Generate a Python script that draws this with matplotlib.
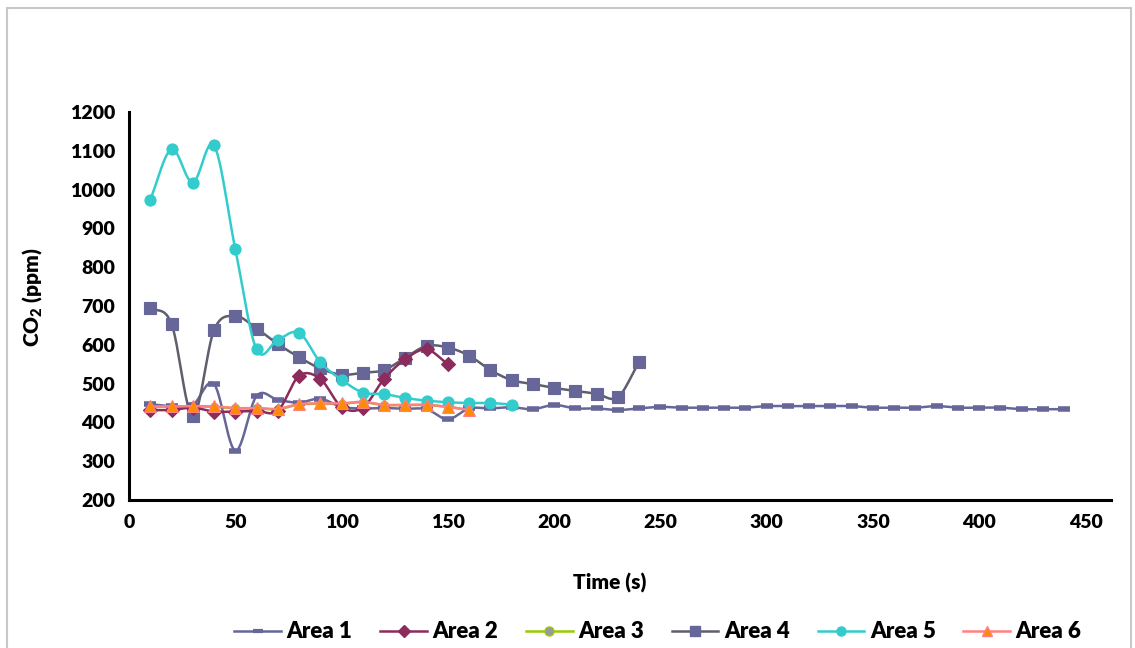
import numpy as np
import matplotlib.pyplot as plt
from matplotlib.patches import Rectangle

# datos (tiempo en s, CO2 en ppm)
t_area1 = list(range(10, 450, 10))
co2_area1 = [447, 442, 445, 499, 327, 468, 458, 451, 461, 440,
             436, 437, 435, 434, 408, 436, 436, 439, 434, 445,
             436, 436, 432, 436, 440, 438, 438, 438, 438, 442,
             442, 442, 442, 442, 438, 438, 438, 442, 438, 438,
             438, 434, 434, 434]

t_area2 = list(range(10, 160, 10))
co2_area2 = [432, 432, 438, 428, 428, 430, 430, 520, 512, 440, 438, 512, 563, 588, 550]

t_area3 = list(range(10, 170, 10))
co2_area3 = [440, 440, 441, 440, 436, 436, 434, 446, 448, 448, 452, 445, 445, 445, 440, 432]

t_area4 = list(range(10, 250, 10))
co2_area4 = [696, 654, 416, 638, 674, 642, 602, 568, 539, 523, 528, 535,
             567, 597, 593, 572, 535, 509, 499, 489, 481, 474, 465, 556]

t_area5 = list(range(10, 190, 10))
co2_area5 = [974, 1104, 1018, 1114, 847, 588, 613, 631, 555, 510, 477, 473,
             463, 456, 452, 450, 450, 446]

t_area6 = list(range(10, 170, 10))
co2_area6 = [441, 441, 442, 441, 437, 437, 435, 447, 449, 449, 453, 445, 445, 445, 440, 432]

xticks = list(range(0, 451, 50))
yticks = list(range(200, 1201, 100))


def suavizar(x, y, n=12):
    # curva suavizada tipo Excel (Catmull-Rom) solo para dibujar la linea
    x = np.asarray(x, float)
    y = np.asarray(y, float)
    px = np.concatenate([[2 * x[0] - x[1]], x, [2 * x[-1] - x[-2]]])
    py = np.concatenate([[2 * y[0] - y[1]], y, [2 * y[-1] - y[-2]]])
    xs, ys = [], []
    s = np.linspace(0, 1, n, endpoint=False)
    for i in range(1, len(px) - 2):
        for arr, out in ((px, xs), (py, ys)):
            p0, p1, p2, p3 = arr[i - 1], arr[i], arr[i + 1], arr[i + 2]
            out.extend(0.5 * ((2 * p1) + (-p0 + p2) * s
                              + (2 * p0 - 5 * p1 + 4 * p2 - p3) * s ** 2
                              + (-p0 + 3 * p1 - 3 * p2 + p3) * s ** 3))
    xs.append(x[-1])
    ys.append(y[-1])
    return xs, ys


plt.rcParams['font.family'] = ['Lato', 'DejaVu Sans']
plt.rcParams['font.weight'] = 'heavy'
peso = 'heavy'

fig = plt.figure(figsize=(11.35, 6.48), dpi=100)
fig.patches.append(Rectangle((7 / 1135, -0.1), 1124 / 1135, 1 - 8 / 648 + 0.1,
                             transform=fig.transFigure, fill=False,
                             edgecolor='#c8c8c8', linewidth=1.5))
ax = fig.add_axes([129 / 1135, 1 - 500 / 648, (1111 - 129) / 1135, (500 - 112) / 648])

series = [
    ('Area 1', t_area1, co2_area1, '#666699', '#666699', '_', 9, 1),
    ('Area 2', t_area2, co2_area2, '#8b2c5c', '#8b2c5c', 'D', 7, 3),
    ('Area 3', t_area3, co2_area3, '#99cc00', '#999999', 'o', 6, 0),
    ('Area 4', t_area4, co2_area4, '#5e5e6e', '#666699', 's', 8, 2),
    ('Area 5', t_area5, co2_area5, '#33cccc', '#33cccc', 'o', 8, 4),
    ('Area 6', t_area6, co2_area6, '#ff8080', '#ff8c00', '^', 9, 5),
]

handles = []
for nombre, t, v, c_linea, c_marca, marca, ms, z in series:
    xs, ys = suavizar(t, v)
    ax.plot(xs, ys, color=c_linea, lw=1.8, zorder=z + 2)
    if marca == '_':
        ax.plot(t, v, ls='none', marker='_', ms=ms, mew=4, color=c_marca, zorder=z + 2)
        h, = ax.plot([], [], color=c_linea, lw=1.8, marker='_', ms=7, mew=3, mec=c_marca)
    else:
        if nombre == 'Area 6':
            mec = '#ff8080'
        elif nombre == 'Area 3':
            mec = '#99cc00'
        else:
            mec = c_marca
        ax.plot(t, v, ls='none', marker=marca, ms=ms, mfc=c_marca, mec=mec,
                mew=0.8, zorder=z + 2)
        h, = ax.plot([], [], color=c_linea, lw=1.8, marker=marca, ms=6.5,
                     mfc=c_marca, mec=mec)
    handles.append((h, nombre))

ax.set_xlim(0, 462)
ax.set_ylim(200, 1200)
ax.set_xticks(xticks)
ax.set_yticks(yticks)
ax.tick_params(length=0, labelsize=14, pad=10)
for lab in ax.get_xticklabels() + ax.get_yticklabels():
    lab.set_fontweight(peso)
ax.spines['top'].set_visible(False)
ax.spines['right'].set_visible(False)
ax.spines['left'].set_linewidth(2.2)
ax.spines['bottom'].set_linewidth(2.2)

fig.text(610 / 1135, 1 - 583 / 648, 'Time (s)', ha='center', va='center',
         fontsize=15, fontweight=peso)
fig.text(33 / 1135, 1 - 297 / 648, 'CO$_\\mathregular{2}$ (ppm)', ha='center', va='center',
         rotation=90, fontsize=15, fontweight=peso)

fig.legend([h for h, _ in handles], [n for _, n in handles], loc='center',
           bbox_to_anchor=(658 / 1135, 1 - 632 / 648), ncol=6, frameon=False,
           handlelength=2.1, columnspacing=1.25, handletextpad=0.25,
           prop={'weight': peso, 'size': 16})

fig.savefig('out.png', dpi=100)
